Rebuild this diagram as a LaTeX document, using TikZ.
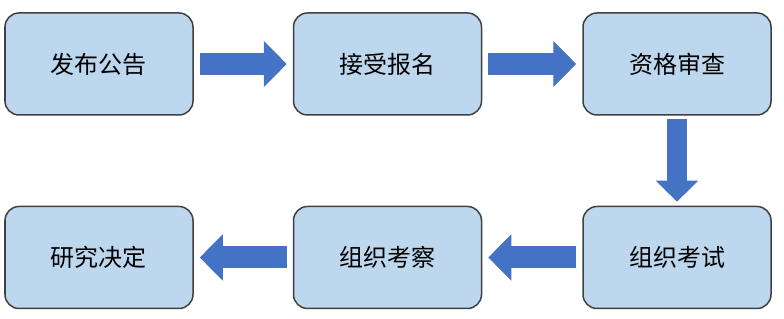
\documentclass[tikz,border=0pt]{standalone}
\usepackage{fontspec}
\setmainfont{Noto Sans CJK SC}
\usepackage{tikz}
\usetikzlibrary{positioning, arrows.meta}
\definecolor{boxfill}{HTML}{BDD7EE}
\definecolor{boxrule}{HTML}{404040}
\definecolor{flow}{HTML}{4472C4}
\tikzset{
  stepcard/.style={draw=boxrule, fill=boxfill, rounded corners=7pt,
                   line width=0.75pt, minimum width=94pt, minimum height=51pt,
                   align=center, font=\fontsize{12}{14}\selectfont},
  flowH/.style   ={flow, line width=11pt,
                   -{Triangle[length=11.5pt, width=22.5pt]},
                   shorten <=3pt, shorten >=3pt},
  flowV/.style   ={flow, line width=10pt,
                   -{Triangle[length=10.5pt, width=20.5pt]},
                   shorten <=1.5pt, shorten >=2pt},
}
\begin{document}
\begin{tikzpicture}
\useasboundingbox (0,0) rectangle (392pt,-159.5pt);

% top row
\node[stepcard] (pub) at (49.5pt,-32pt) {发布公告};
\node[stepcard, right=49.5pt of pub] (reg) {接受报名};
\node[stepcard, right=50pt of reg] (chk) {资格审查};

% bottom row
\node[stepcard, below=45pt of chk] (exam) {组织考试};
\node[stepcard, left=50pt of exam] (insp) {组织考察};
\node[stepcard, left=49.5pt of insp] (dec) {研究决定};

% flow arrows
\draw[flowH] (pub) -- (reg);
\draw[flowH] (reg) -- (chk);
\draw[flowV] (chk) -- (exam);
\draw[flowH] (exam) -- (insp);
\draw[flowH] (insp) -- (dec);

\end{tikzpicture}
\end{document}
